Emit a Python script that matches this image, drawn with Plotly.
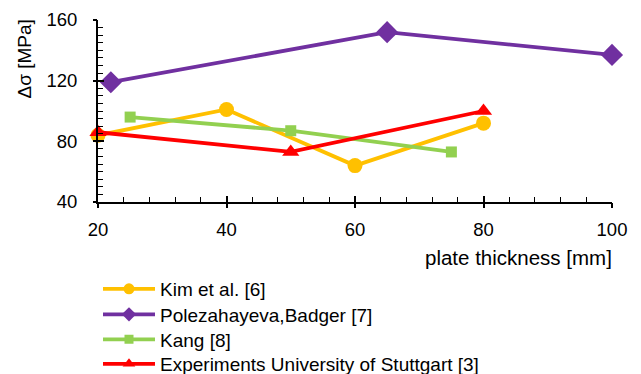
import plotly.graph_objects as go

# Stress range vs. plate thickness, four data sources
kim_x = [20, 40, 60, 80]
kim_y = [84, 101, 64, 92]

pol_x = [22, 65, 100]
pol_y = [119, 152, 137]

kang_x = [25, 50, 75]
kang_y = [96, 87, 73]

stg_x = [20, 50, 80]
stg_y = [86, 73, 100]

names = ["Kim et al. [6]", "Polezahayeva,Badger [7]", "Kang [8]",
         "Experiments University of Stuttgart [3]"]
colors = ["#FFC000", "#7030A0", "#92D050", "#FF0000"]
symbols = ["circle", "diamond", "square", "triangle-up"]
sizes = [15, 17, 11, 15]
legend_sizes = [11, 11, 9, 11]

x_ticks = [20, 40, 60, 80, 100]
y_ticks = [40, 80, 120, 160]

FONT = "Liberation Sans, Arial, sans-serif"
H = 374
# vertical centre (px from top) of each legend row
legend_rows = [289, 314.5, 339.5, 364]
legend_ids = ["legend", "legend2", "legend3", "legend4"]

fig = go.Figure()
series = [(kim_x, kim_y), (pol_x, pol_y), (kang_x, kang_y), (stg_x, stg_y)]
for (xs, ys), name, c, s, sz in zip(series, names, colors, symbols, sizes):
    fig.add_trace(go.Scatter(
        x=xs, y=ys, mode="lines+markers", name=name, showlegend=False,
        line=dict(color=c, width=3.8),
        marker=dict(symbol=s, size=sz, color=c, line=dict(width=0)),
        cliponaxis=False,
    ))
# legend entries with smaller symbols, one legend box per row
for name, c, s, lsz, lid in zip(names, colors, symbols, legend_sizes, legend_ids):
    fig.add_trace(go.Scatter(
        x=[None], y=[None], mode="lines+markers", name=name, legend=lid,
        line=dict(color=c, width=3.8),
        marker=dict(symbol=s, size=lsz, color=c, line=dict(width=0)),
    ))

# invisible trace on overlay axes that carry the outward half of the major ticks
fig.add_trace(go.Scatter(x=[None], y=[None], xaxis="x2", yaxis="y2",
                         showlegend=False, hoverinfo="skip"))

tickfont = dict(family=FONT, size=18.5, color="#000")

legend_layout = {}
for lid, row in zip(legend_ids, legend_rows):
    legend_layout[lid] = dict(
        x=0.0, xanchor="left", y=1 - row / H, yanchor="middle",
        xref="paper", yref="container", itemwidth=52,
        font=dict(family=FONT, size=19, color="#000"),
        bgcolor="rgba(0,0,0,0)", borderwidth=0,
    )

fig.update_layout(
    width=641, height=H,
    margin=dict(l=98, r=29, t=20, b=172, autoexpand=False),
    paper_bgcolor="white", plot_bgcolor="white",
    font=dict(family=FONT, size=18, color="#000"),
    xaxis=dict(range=[20, 100], tickvals=x_ticks, ticks="inside", ticklen=6,
               showline=True, linecolor="black", linewidth=1.5,
               tickcolor="black", tickwidth=1.5, showticklabels=False,
               showgrid=False, zeroline=False,
               minor=dict(dtick=4, ticks="inside", ticklen=5,
                          tickcolor="black", tickwidth=1.2)),
    yaxis=dict(range=[40, 160], tickvals=y_ticks, ticks="inside", ticklen=6,
               showline=True, linecolor="black", linewidth=1.5,
               tickcolor="black", tickwidth=1.5, showticklabels=False,
               showgrid=False, zeroline=False,
               minor=dict(dtick=5, ticks="inside", ticklen=5,
                          tickcolor="black", tickwidth=1.2)),
    xaxis2=dict(overlaying="x", matches="x", anchor="y2", side="bottom",
                range=[20, 100], tickvals=x_ticks, ticks="outside", ticklen=5,
                tickfont=tickfont, ticklabelstandoff=6,
                showline=False, showgrid=False,
                zeroline=False, tickcolor="black", tickwidth=1.5),
    yaxis2=dict(overlaying="y", matches="y", anchor="x2", side="left",
                range=[40, 160], tickvals=y_ticks, ticks="outside", ticklen=4,
                tickfont=tickfont, ticklabelstandoff=12,
                showline=False, showgrid=False,
                zeroline=False, tickcolor="black", tickwidth=1.5),
    annotations=[
        dict(text="plate thickness [mm]", xref="paper", yref="paper",
             x=1.0, xanchor="right", xshift=2, y=0, yanchor="middle",
             yshift=-55.5, showarrow=False,
             font=dict(family=FONT, size=20.5, color="#000")),
        dict(text="Δσ [MPa]", xref="paper", yref="paper", textangle=-90,
             x=0, xshift=-74, xanchor="center", y=1.0, yanchor="top",
             yshift=2, showarrow=False,
             font=dict(family=FONT, size=19, color="#000")),
    ],
    **legend_layout,
)

fig.write_html("out.html")
